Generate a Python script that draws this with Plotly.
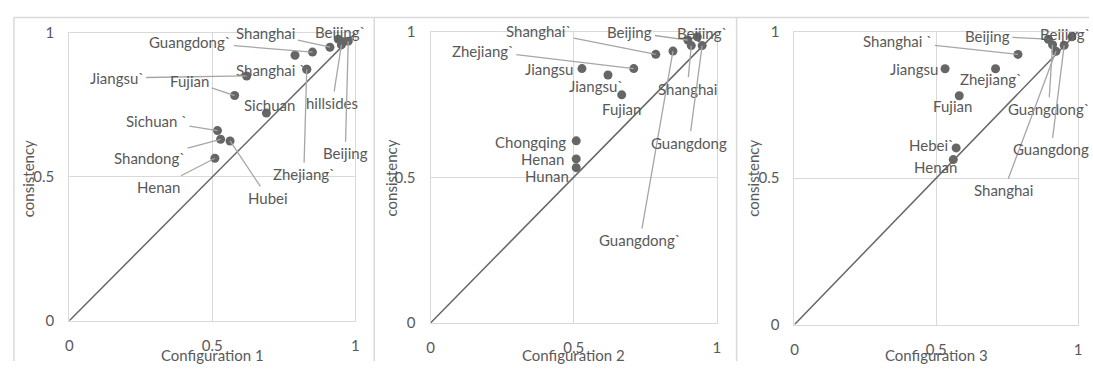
import plotly.graph_objects as go

W, H = 1093, 369

# ---------------- data ----------------
# Configuration 1
names_1 = ["Shanghai", "Beijing`", "Guangdong`", "", "Shanghai `", "Zhejiang`", "Jiangsu`",
           "Fujian", "Sichuan", "Sichuan `", "Shandong`", "Hubei", "Henan", "hillsides",
           "Beijing", ""]
x_1 = [0.911, 0.940, 0.850, 0.789, 0.830, 0.830, 0.620, 0.578, 0.689, 0.518, 0.529, 0.562,
       0.509, 0.951, 0.975, 0.957]
y_1 = [0.951, 0.979, 0.934, 0.923, 0.874, 0.874, 0.851, 0.783, 0.722, 0.661, 0.631, 0.625,
       0.565, 0.959, 0.972, 0.970]

# Configuration 2
names_2 = ["Shanghai`", "Guangdong`", "Beijing", "Shanghai", "Beijing`", "Guangdong",
           "Zhejiang`", "Jiangsu", "Jiangsu`", "Fujian", "Chongqing", "Henan", "Hunan"]
x_2 = [0.787, 0.847, 0.899, 0.911, 0.932, 0.949, 0.710, 0.529, 0.620, 0.668, 0.509, 0.509, 0.509]
y_2 = [0.922, 0.933, 0.971, 0.952, 0.982, 0.952, 0.873, 0.873, 0.851, 0.783, 0.625, 0.563, 0.533]

# Configuration 3
names_3 = ["Beijing", "Beijing`", "Shanghai `", "Jiangsu", "Zhejiang`", "Fujian", "Guangdong`",
           "Shanghai", "Guangdong", "Hebei`", "Henan"]
x_3 = [0.895, 0.978, 0.788, 0.531, 0.709, 0.581, 0.910, 0.922, 0.951, 0.570, 0.560]
y_3 = [0.974, 0.982, 0.922, 0.873, 0.873, 0.781, 0.955, 0.933, 0.953, 0.603, 0.563]

tick_vals = [0, 0.5, 1]
tick_text = ["0", "0.5", "1"]
diagonal = [0, 1]
x_titles = ["Configuration 1", "Configuration 2", "Configuration 3"]
y_title = "consistency"

# ---------------- label placement (pixel offset from point, leader line?) ----------------
place_1 = [(-64, -14, True), (2, -7, False), (-122, -10, True), None, (-36, 1, False),
           (-3, 105, True), (-130, 2, True), (-45, -15, True), (3, -8, False),
           (-61, -10, True), (-71, 19, True), (38, 57, True), (-56, 29, True),
           (-9, 58, True), (-3, 112, True), None]
place_2 = [(-117, -23, True), (-33, 189, True), (-58, -8, True), (-4, 43, True),
           (5, -4, False), (-13, 97, True), (-151, -18, True), (-33, 0, False),
           (-12, 11, False), (0, 14, False), (-46, 1, False), (-34, 0, False), (-29, 8, False)]
place_3 = [(-61, -3, True), (-7, -3, False), (-120, -13, True), (-31, 0, False),
           (-5, 10, False), (-7, 10, False), (-4, 64, True), (-52, 139, True),
           (-13, 104, True), (-25, -3, False), (-18, 7, False)]

# ---------------- layout geometry (pixels) ----------------
# plot boxes: left, right, top, bottom
boxes = [(65.7, 354.0, 24.3, 326.7), (429.7, 718.0, 22.7, 329.0), (796.3, 1082.0, 22.7, 330.7)]
ytitle_x = [25, 390, 755]
ytitle_y = 177
xtitle_y = 363
frame_x = [10, 373, 738]
frame_top = 8

FONT = "Lato"
TXT = "#595959"
GRID = "#d9d9d9"
DOT = "#666666"
LEADER = "#a6a6a6"


def px(x):
    return x / W


def py(y):
    return 1 - y / H


fig = go.Figure()
panels = [(names_1, x_1, y_1, place_1), (names_2, x_2, y_2, place_2), (names_3, x_3, y_3, place_3)]
annotations = []
shapes = []

for i, (names, xs, ys, places) in enumerate(panels):
    n = "" if i == 0 else str(i + 1)
    xa, ya = "x" + n, "y" + n
    left, right, top, bottom = boxes[i]

    fig.add_trace(go.Scatter(x=diagonal, y=diagonal, mode="lines", xaxis=xa, yaxis=ya,
                             line=dict(color=DOT, width=1.5), hoverinfo="skip", showlegend=False))
    fig.add_trace(go.Scatter(x=xs, y=ys, mode="markers", xaxis=xa, yaxis=ya, text=names,
                             marker=dict(color=DOT, size=9), showlegend=False))

    axis_common = dict(range=[0, 1], tickvals=tick_vals, ticktext=tick_text, showgrid=True,
                       gridcolor=GRID, gridwidth=1, showline=True, mirror=True, linecolor=GRID,
                       linewidth=1, zeroline=False, ticks="outside", tickcolor="rgba(0,0,0,0)",
                       tickfont=dict(family=FONT, size=15, color=TXT), fixedrange=True)
    fig.update_layout(**{
        "xaxis" + n: dict(axis_common, domain=[px(left), px(right)], anchor=ya, ticklen=11),
        "yaxis" + n: dict(axis_common, domain=[py(bottom), py(top)], anchor=xa, ticklen=11),
    })

    for name, x, y, pl in zip(names, xs, ys, places):
        if pl is None or not name:
            continue
        dx, dy, leader = pl
        ann = dict(text=name, x=x, y=y, xref=xa, yref=ya, xanchor="center", yanchor="middle",
                   font=dict(family=FONT, size=15, color=TXT), borderpad=2)
        if leader:
            ann.update(showarrow=True, ax=dx, ay=dy, arrowhead=0, arrowwidth=1.3,
                       arrowcolor=LEADER, standoff=0)
        else:
            ann.update(showarrow=False, xshift=dx, yshift=-dy)
        annotations.append(ann)

    annotations.append(dict(text=x_titles[i], x=px((left + right) / 2), y=py(xtitle_y),
                            xref="paper", yref="paper", xanchor="center", yanchor="middle",
                            showarrow=False, font=dict(family=FONT, size=15, color=TXT)))
    annotations.append(dict(text=y_title, x=px(ytitle_x[i]), y=py(ytitle_y), textangle=-90,
                            xref="paper", yref="paper", xanchor="center", yanchor="middle",
                            showarrow=False, font=dict(family=FONT, size=15, color=TXT)))

# chart frames
shapes.append(dict(type="line", xref="paper", yref="paper", x0=px(frame_x[0]), x1=1,
                   y0=py(frame_top), y1=py(frame_top), line=dict(color=GRID, width=1.5)))
for fx in frame_x:
    shapes.append(dict(type="line", xref="paper", yref="paper", x0=px(fx), x1=px(fx),
                       y0=py(frame_top), y1=0, line=dict(color=GRID, width=1.5)))

fig.update_layout(width=W, height=H, margin=dict(l=0, r=0, t=0, b=0),
                  paper_bgcolor="white", plot_bgcolor="white",
                  annotations=annotations, shapes=shapes, showlegend=False)

fig.write_html("out.html")
